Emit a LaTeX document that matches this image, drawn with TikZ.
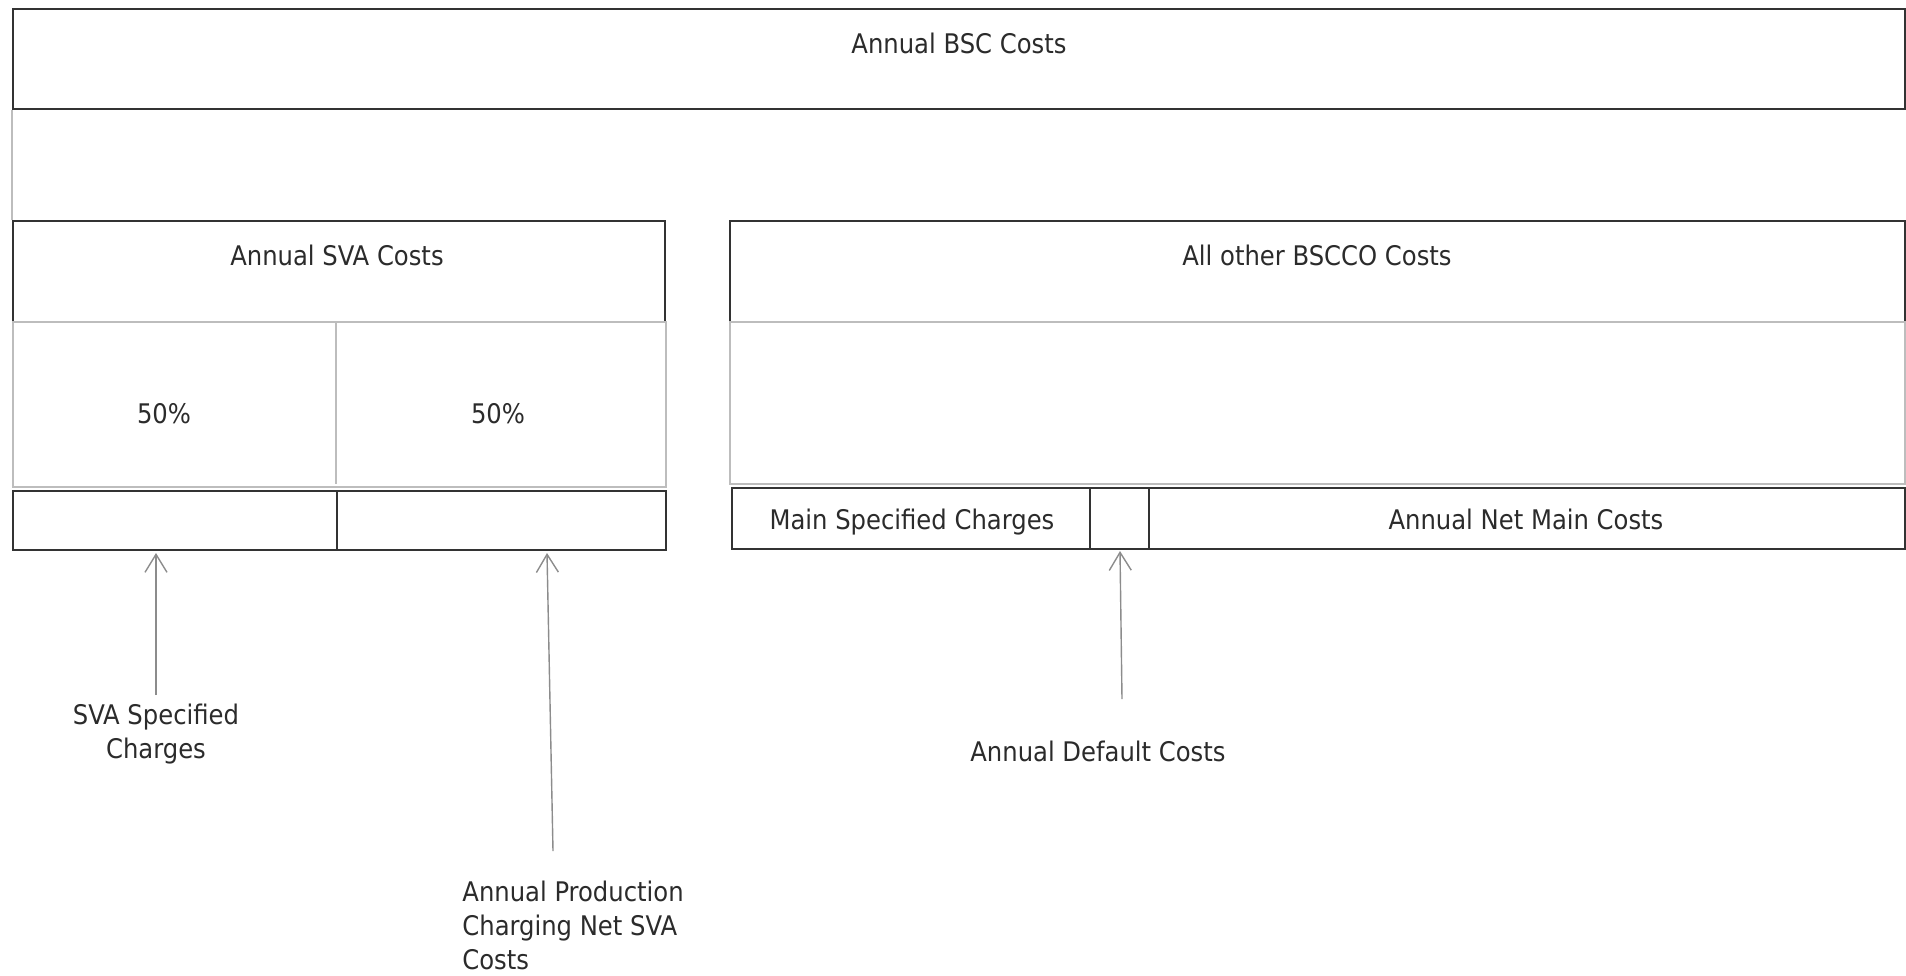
\documentclass[tikz,border=0pt]{standalone}
\usepackage{fontspec}
\setmainfont{DejaVu Sans Condensed}
\usetikzlibrary{arrows.meta}
\definecolor{boxline}{HTML}{333333}
\definecolor{lightline}{HTML}{BDBDBD}
\definecolor{arrowgrey}{HTML}{8C8C8C}
\definecolor{txt}{HTML}{2B2B2B}
\begin{document}
\begin{tikzpicture}[x=0.5pt,y=-0.5pt,
  box/.style={draw=boxline,line width=1.1pt,inner sep=0pt,anchor=north west},
  pane/.style={draw=lightline,line width=0.8pt,inner sep=0pt,anchor=north west},
  lbl/.style={text=txt,font=\fontsize{13.5}{17}\selectfont,inner sep=0pt},
  onelbl/.style={lbl,text height=10pt,text depth=0pt},
  pointer/.style={draw=arrowgrey,line width=0.7pt,-{Straight Barb[length=9pt,width=11pt,line width=0.7pt]}}]
\useasboundingbox (0,0) rectangle (1906,975);
% top box
\node[box,minimum width=946pt,minimum height=50pt] (bsc) at (12,8) {};
\node[onelbl] (bsct) at (959,43) {Annual BSC Costs};
\draw[draw=lightline,line width=0.8pt] (bsc.south west) -- (12,220);
% SVA side
\node[box,minimum width=326pt,minimum height=50.5pt] (sva) at (12,220) {};
\node[onelbl] (svat) at (337,255) {Annual SVA Costs};
\node[pane,minimum width=326.5pt,minimum height=82.5pt] (svapane) at (12,321) {};
\draw[draw=lightline,line width=0.8pt] (336,321) -- (336,484);
\node[onelbl] (p1) at (164,413) {50\%};
\node[onelbl] (p2) at (498,413) {50\%};
\node[box,minimum width=162pt,minimum height=29.5pt] (svaL) at (12,490) {};
\node[box,minimum width=164.5pt,minimum height=29.5pt] (svaR) at (336,490) {};
% other side
\node[box,minimum width=587.5pt,minimum height=50.5pt] (oth) at (729,220) {};
\node[onelbl] (otht) at (1317,255) {All other BSCCO Costs};
\node[pane,minimum width=587.5pt,minimum height=81pt] (othpane) at (729,321) {};
\node[box,minimum width=179pt,minimum height=30.5pt] (msc) at (731,487) {};
\node[box,minimum width=29.5pt,minimum height=30.5pt] (dflt) at (1089,487) {};
\node[box,minimum width=378pt,minimum height=30.5pt] (anm) at (1148,487) {};
\node[onelbl] (msct) at (912,519) {Main Specified Charges};
\node[onelbl] (anmt) at (1526,519) {Annual Net Main Costs};
% pointers
\node[lbl,align=center] (l1) at (156,734) {SVA Specified\\Charges};
\node[lbl,align=left,anchor=west] (l2) at (462,925) {Annual Production\\Charging Net SVA\\Costs};
\node[onelbl] (l3) at (1098,751) {Annual Default Costs};
\coordinate (a1s) at (156,695);
\coordinate (a1e) at (156,553);
\coordinate (a2s) at (553,851);
\coordinate (a2e) at (547,553);
\coordinate (a3s) at (1122,699);
\coordinate (a3e) at (1120,551);
\draw[pointer] (a1s) -- (a1e);
\draw[pointer] (a2s) -- (a2e);
\draw[pointer] (a3s) -- (a3e);
\end{tikzpicture}
\end{document}
